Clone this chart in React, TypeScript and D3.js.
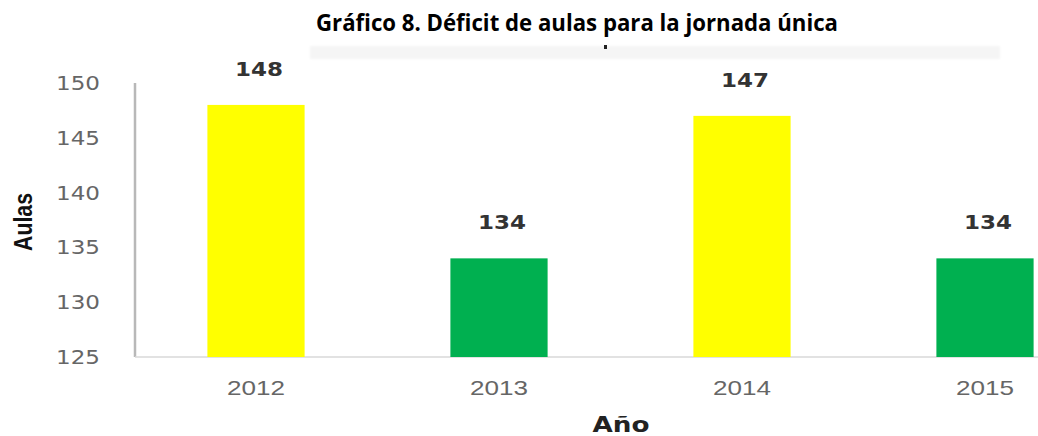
import React from "react";
import * as d3 from "d3";

const years = ["2012", "2013", "2014", "2015"];
const values = [148, 134, 147, 134];
const barColors = ["#FFFF00", "#00B050", "#FFFF00", "#00B050"];
const yTicks = [125, 130, 135, 140, 145, 150];

const W = 1038;
const H = 436;

export default function App() {
  const x = d3.scaleBand<string>().domain(years).range([134.5, 1106.5]).paddingInner(0.6).paddingOuter(0.3);
  const y = d3.scaleLinear().domain([125, 150]).range([357, 83]);
  const base = y(125);
  return (
    <svg width={W} height={H} style={{ position: "absolute", left: 0, top: 0, background: "#fff" }}>
      <defs>
        <filter id="blur" x="-5%" y="-50%" width="110%" height="200%">
          <feGaussianBlur stdDeviation="1.2" />
        </filter>
      </defs>
      <text x={577} y={31} textAnchor="middle" fontFamily="'Open Sans', sans-serif" fontWeight="bold" fontSize={23} fill="#000" textLength={522} lengthAdjust="spacingAndGlyphs">
        Gráfico 8. Déficit de aulas para la jornada única
      </text>
      {/* faint remnant of a cropped title */}
      <rect x={310} y={46} width={690} height={13} fill="#f5f5f5" filter="url(#blur)" />
      <rect x={604} y={45} width={3} height={4} fill="#222" />
      {/* axes */}
      <line x1={135} x2={135} y1={y(150)} y2={base} stroke="#b8b8b8" strokeWidth={2.5} />
      <line x1={135} x2={W} y1={base} y2={base} stroke="#d9d9d9" strokeWidth={1.5} />
      {yTicks.map((t) => (
        <text key={t} x={100} y={y(t) + 7} textAnchor="end" fontFamily="'DejaVu Sans', sans-serif" fontSize={19} fill="#666" textLength={44} lengthAdjust="spacingAndGlyphs">
          {t}
        </text>
      ))}
      {years.map((yr, i) => (
        <g key={yr}>
          <rect x={x(yr)} y={y(values[i])} width={x.bandwidth()} height={base - y(values[i])} fill={barColors[i]} />
          <text x={(x(yr) as number) + x.bandwidth() / 2 + 3} y={y(values[i]) - 29} textAnchor="middle" fontFamily="'DejaVu Sans', sans-serif" fontWeight="bold" fontSize={19} fill="#333" textLength={48} lengthAdjust="spacingAndGlyphs">
            {values[i]}
          </text>
          <text x={(x(yr) as number) + x.bandwidth() / 2} y={395} textAnchor="middle" fontFamily="'Liberation Sans', sans-serif" fontSize={21} fill="#666" textLength={58} lengthAdjust="spacingAndGlyphs">
            {yr}
          </text>
        </g>
      ))}
      <text x={621} y={432} textAnchor="middle" fontFamily="'DejaVu Sans', sans-serif" fontWeight="bold" fontSize={21} fill="#222" textLength={57} lengthAdjust="spacingAndGlyphs">
        Año
      </text>
      <text transform="translate(32,222) rotate(-90)" textAnchor="middle" fontFamily="'Liberation Sans Narrow', 'Liberation Sans', sans-serif" fontWeight="bold" fontSize={25} fill="#111" textLength={58} lengthAdjust="spacingAndGlyphs">
        Aulas
      </text>
    </svg>
  );
}
